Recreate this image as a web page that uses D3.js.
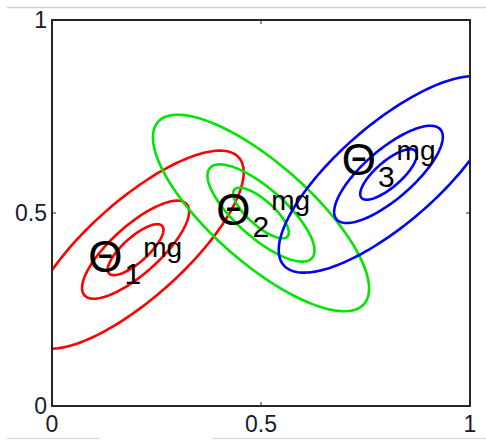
<!DOCTYPE html>
<html>
<head>
<meta charset="utf-8">
<script src="https://cdn.jsdelivr.net/npm/d3@7"></script>
<style>
  html, body { margin: 0; padding: 0; background: #fff; }
  svg { display: block; }
</style>
</head>
<body>
<svg id="chart" width="486" height="441"></svg>
<script>
// ---- data ----
const components = ["1", "2", "3"];
const colors = ["#ff0000", "#00e600", "#0000ff"];
const meansX = [0.2, 0.5, 0.805];
const meansY = [0.405, 0.5, 0.6];
const sdX = [0.128, 0.128, 0.13];
const sdY = [0.127, 0.126, 0.126];
const rhos = [0.78, -0.77, 0.77];
const contourRadii = [0.52, 1, 2.02];
const labelX = [0.087, 0.393, 0.693];
const labelY = [0.347, 0.469, 0.598];
const xTicks = [0, 0.5, 1];
const yTicks = [0, 0.5, 1];
const xTickLabels = ["0", "0.5", "1"];
const yTickLabels = ["0", "0.5", "1"];

// ---- layout ----
const svg = d3.select("#chart");
const pLeft = 52, pRight = 470, pTop = 20, pBottom = 406;
const x = d3.scaleLinear().domain([0, 1]).range([pLeft, pRight]);
const y = d3.scaleLinear().domain([0, 1]).range([pBottom, pTop]);
const font = "'Liberation Sans', Arial, Helvetica, sans-serif";

// decorative page rules
svg.append("line").attr("x1", 7).attr("x2", 486).attr("y1", 7.5).attr("y2", 7.5)
  .attr("stroke", "#d0d0d0").attr("stroke-width", 1.5);
svg.append("line").attr("x1", 7).attr("x2", 100).attr("y1", 438.5).attr("y2", 438.5)
  .attr("stroke", "#d8d8d8").attr("stroke-width", 1.2);
svg.append("line").attr("x1", 212).attr("x2", 486).attr("y1", 438.5).attr("y2", 438.5)
  .attr("stroke", "#d8d8d8").attr("stroke-width", 1.2);

svg.append("defs").append("clipPath").attr("id", "plotclip")
  .append("rect").attr("x", pLeft).attr("y", pTop)
  .attr("width", pRight - pLeft).attr("height", pBottom - pTop);

// ---- ellipses ----
const N = 180;
const angles = d3.range(N).map(i => 2 * Math.PI * i / N);
const line = d3.line().x(d => x(d[0])).y(d => y(d[1])).curve(d3.curveLinearClosed);
const g = svg.append("g").attr("clip-path", "url(#plotclip)");
components.forEach((c, k) => {
  const mx = meansX[k], my = meansY[k], sx = sdX[k], sy = sdY[k], r = rhos[k];
  contourRadii.forEach(rad => {
    const pts = angles.map(t => {
      const u = Math.cos(t), v = Math.sin(t);
      return [mx + rad * sx * u,
              my + rad * (r * sy * u + sy * Math.sqrt(1 - r * r) * v)];
    });
    g.append("path").attr("d", line(pts))
      .attr("fill", "none").attr("stroke", colors[k]).attr("stroke-width", 2.6);
  });
});

// ---- frame and ticks ----
svg.append("rect").attr("x", pLeft).attr("y", pTop)
  .attr("width", pRight - pLeft).attr("height", pBottom - pTop)
  .attr("fill", "none").attr("stroke", "#262626").attr("stroke-width", 2);

const tl = 4;
xTicks.forEach(v => {
  svg.append("line").attr("x1", x(v)).attr("x2", x(v)).attr("y1", pBottom).attr("y2", pBottom - tl)
    .attr("stroke", "#262626").attr("stroke-width", 1);
  svg.append("line").attr("x1", x(v)).attr("x2", x(v)).attr("y1", pTop).attr("y2", pTop + tl)
    .attr("stroke", "#262626").attr("stroke-width", 1);
});
yTicks.forEach(v => {
  svg.append("line").attr("x1", pLeft).attr("x2", pLeft + tl).attr("y1", y(v)).attr("y2", y(v))
    .attr("stroke", "#262626").attr("stroke-width", 1);
  svg.append("line").attr("x1", pRight).attr("x2", pRight - tl).attr("y1", y(v)).attr("y2", y(v))
    .attr("stroke", "#262626").attr("stroke-width", 1);
});

xTicks.forEach((v, i) => {
  svg.append("text").attr("x", x(v)).attr("y", 432)
    .attr("text-anchor", "middle").attr("font-family", font).attr("font-size", 23)
    .attr("fill", "#1a1a2a").text(xTickLabels[i]);
});
yTicks.forEach((v, i) => {
  svg.append("text").attr("x", 47).attr("y", y(v)).attr("dy", "0.36em")
    .attr("text-anchor", "end").attr("font-family", font).attr("font-size", 23)
    .attr("fill", "#1a1a2a").text(yTickLabels[i]);
});

// ---- labels ----
components.forEach((c, k) => {
  const t = svg.append("text").attr("x", x(labelX[k])).attr("y", y(labelY[k]))
    .attr("font-family", font).attr("fill", "#000");
  t.append("tspan").attr("font-size", 44).text("\u0398");
  t.append("tspan").attr("font-size", 30).attr("dx", 2).attr("dy", 12).text(c);
  t.append("tspan").attr("font-size", 28).attr("dx", 2).attr("dy", -27).text("mg");
});
</script>
</body>
</html>
